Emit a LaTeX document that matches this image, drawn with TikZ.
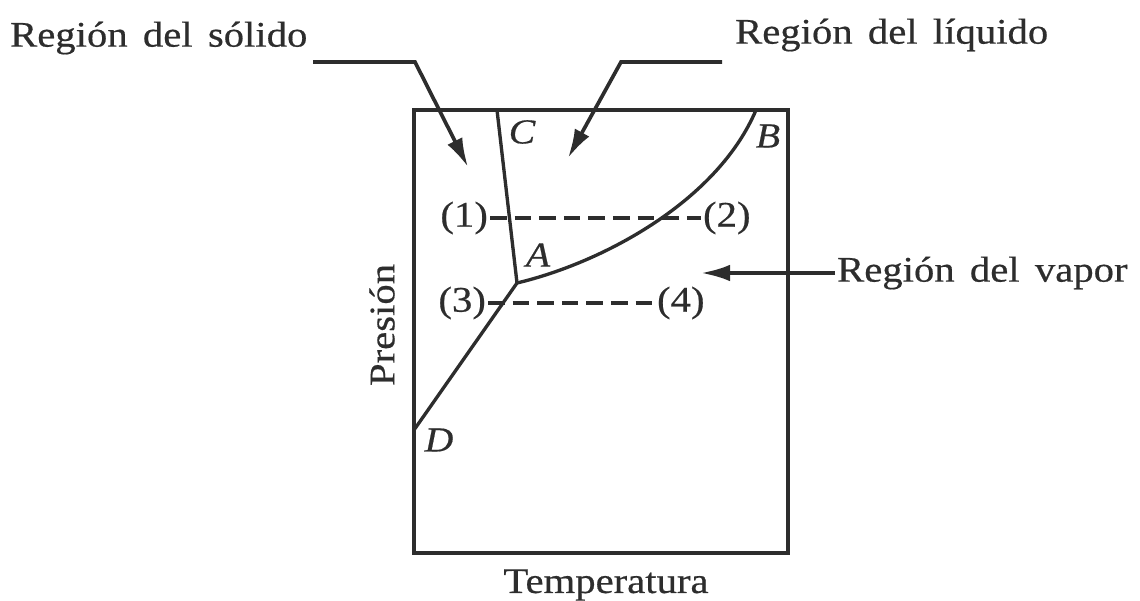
\documentclass[tikz,border=0pt]{standalone}
\usepackage{fontspec}
\setmainfont{Liberation Serif}[FakeStretch=1.13,FakeBold=0.5,WordSpace=1.5]
\usepackage{tikz}
\usetikzlibrary{arrows.meta,positioning,calc}
\definecolor{ink}{RGB}{45,45,45}

\begin{document}
\begin{tikzpicture}[
  x=0.02cm,y=-0.02cm,
  txt/.style={text=ink,inner sep=1pt,font=\fontsize{20.5}{24}\selectfont},
  lbl/.style={txt,font=\fontsize{20}{24}\selectfont\itshape},
  frame/.style={draw=ink,line width=2pt},
  phase/.style={draw=ink,line width=1.9pt},
  tie/.style={draw=ink,line width=2pt,dash pattern=on 9.5pt off 4.5pt},
  arr/.style={draw=ink,line width=2.1pt,-{Latex[length=5.8mm,width=3.3mm]}}
]
\useasboundingbox (0,0) rectangle (1140,601);
% frame and phase lines
\draw[frame] (414,110) rectangle (788,553);
\coordinate (C) at (497,110);
\coordinate (A) at (517,283);
\coordinate (B) at (756,110);
\coordinate (D) at (414,430);
\draw[phase] (C) -- (A) -- (D);
\draw[phase] (A) .. controls (605,262) and (718,200) .. (B);
\node[lbl] (lC) at (522,132) {C};
\node[lbl] (lB) at (768,136) {B};
\node[lbl] (lA) at (538,255) {A};
\node[lbl] (lD) at (439,440) {D};
% processes
\node[txt,anchor=east] (p1) at (490,218) {(1)};
\node[txt,anchor=west] (p2) at (701,218) {(2)};
\node[txt,anchor=east] (p3) at (488,303) {(3)};
\node[txt,anchor=west] (p4) at (655,303) {(4)};
\draw[tie] (p1) -- (p2);
\draw[tie] (p3) -- (p4);
% axis names
\node[txt,rotate=90] (pres) at (382,325) {Presión};
\node[txt] (temp) at (606,585) {Temperatura};
% regions
\node[txt,anchor=west] (sol) at (8,38) {Región del sólido};
\node[txt,anchor=west] (liq) at (733,35) {Región del líquido};
\node[txt,anchor=west] (vap) at (835,273) {Región del vapor};
\coordinate (solEnd) at (313,62);
\coordinate (solBend) at (415,62);
\coordinate (solTip) at (468,167);
\coordinate (liqEnd) at (722,62);
\coordinate (liqBend) at (621,62);
\coordinate (liqTip) at (568,158);
\coordinate (vapTip) at (701,273);
\draw[arr] (solEnd) -- (solBend) -- (solTip);
\draw[arr] (liqEnd) -- (liqBend) -- (liqTip);
\draw[arr] (vap.west) -- (vapTip);
\end{tikzpicture}
\end{document}
